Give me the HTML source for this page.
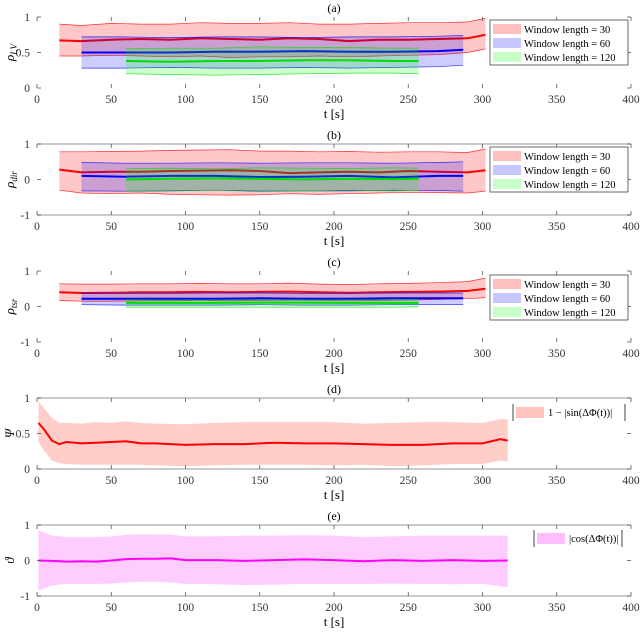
<!DOCTYPE html>
<html><head><meta charset="utf-8"><style>
body{margin:0;background:#fff;}
svg{display:block;font-family:"Liberation Serif",serif;}
</style></head><body>
<svg id="chart" width="640" height="632" viewBox="0 0 640 632" xmlns="http://www.w3.org/2000/svg"></svg>
<script>
// ---- data ----
const t30 = [15,30,50,70,90,110,130,150,170,190,210,230,250,270,290,302];
const t60 = [30,60,90,120,150,180,210,240,270,287];
const t120 = [60,90,120,150,180,210,240,257];
const aM30 = [.67,.66,.68,.69,.68,.70,.69,.68,.70,.69,.66,.68,.68,.69,.70,.75];
const aU30 = [.9,.88,.91,.9,.9,.92,.91,.91,.92,.9,.9,.91,.92,.92,.93,.98];
const aL30 = [.45,.45,.46,.45,.44,.45,.43,.44,.44,.45,.44,.45,.46,.47,.5,.55];
const aM60 = [.5,.5,.5,.51,.51,.52,.51,.51,.52,.54];
const aU60 = [.72,.72,.71,.72,.72,.71,.72,.72,.73,.74];
const aL60 = [.28,.28,.29,.28,.28,.29,.28,.29,.3,.32];
const aM120 = [.38,.37,.38,.38,.39,.39,.38,.38];
const aU120 = [.55,.56,.56,.58,.57,.57,.56,.56];
const aL120 = [.2,.19,.18,.19,.2,.21,.21,.2];
const bM30 = [.28,.2,.22,.22,.24,.25,.26,.24,.18,.2,.22,.2,.24,.22,.2,.26];
const bU30 = [.78,.78,.79,.8,.82,.83,.84,.8,.8,.78,.79,.77,.78,.78,.76,.86];
const bL30 = [-.3,-.38,-.4,-.38,-.42,-.43,-.44,-.43,-.4,-.42,-.4,-.38,-.36,-.37,-.38,-.33];
const bM60 = [.1,.08,.1,.1,.07,.08,.1,.06,.1,.1];
const bU60 = [.48,.46,.46,.47,.46,.47,.47,.46,.48,.5];
const bL60 = [-.32,-.33,-.32,-.3,-.33,-.32,-.32,-.3,-.31,-.33];
const bM120 = [0,.02,.03,.02,0,.02,.01,.02];
const bU120 = [.3,.32,.3,.33,.32,.31,.33,.32];
const bL120 = [-.32,-.31,-.3,-.31,-.32,-.3,-.32,-.3];
const cM30 = [.4,.38,.39,.4,.4,.41,.4,.41,.42,.4,.39,.4,.41,.42,.44,.5];
const cU30 = [.64,.63,.63,.64,.64,.65,.64,.64,.66,.63,.62,.64,.65,.67,.7,.8];
const cL30 = [.17,.15,.15,.16,.16,.17,.16,.17,.18,.17,.16,.17,.18,.2,.22,.25];
const cM60 = [.22,.22,.22,.22,.23,.22,.22,.23,.23,.23];
const cU60 = [.38,.37,.37,.38,.38,.37,.37,.38,.38,.38];
const cL60 = [.05,.04,.04,.04,.05,.04,.04,.05,.06,.06];
const cM120 = [.1,.1,.1,.11,.11,.1,.1,.1];
const cU120 = [.19,.18,.18,.19,.18,.19,.19,.19];
const cL120 = [-.02,-.02,-.02,-.02,-.02,-.02,-.02,-.01];
const dT = [1,5,10,15,20,30,40,50,60,70,80,100,120,140,160,180,200,220,240,260,280,300,312,317];
const dM = [.65,.55,.4,.35,.38,.36,.37,.38,.39,.36,.36,.34,.35,.35,.37,.36,.36,.35,.34,.34,.36,.36,.42,.4];
const dU = [.95,.85,.72,.65,.65,.64,.66,.65,.67,.65,.64,.63,.65,.66,.66,.66,.66,.64,.65,.66,.66,.65,.7,.7];
const dL = [.38,.25,.12,.08,.07,.06,.06,.06,.06,.06,.05,.04,.05,.06,.06,.06,.05,.06,.04,.05,.07,.07,.12,.1];
const eT = [1,10,20,30,40,50,60,70,80,90,100,120,140,160,180,200,220,240,260,280,300,317];
const eM = [0,-.01,-.03,-.02,-.03,0,.04,.05,.05,.06,.01,.01,-.01,.01,.03,.01,-.02,.01,-.01,.01,-.01,0];
const eU = [.85,.7,.66,.66,.66,.68,.72,.74,.73,.73,.68,.68,.7,.7,.71,.7,.66,.68,.7,.7,.7,.7];
const eL = [-.85,-.7,-.66,-.66,-.66,-.65,-.62,-.6,-.6,-.62,-.66,-.67,-.69,-.68,-.66,-.66,-.66,-.65,-.66,-.67,-.66,-.75];
const xTicks = [0,50,100,150,200,250,300,350,400];

const NS='http://www.w3.org/2000/svg';
const svg=document.getElementById('chart');
function mk(tag,attrs,parent){const e=document.createElementNS(NS,tag);for(const k in attrs)e.setAttribute(k,attrs[k]);(parent||svg).appendChild(e);return e;}
const X0=37,X1=631;
function xs(t){return X0+(t/400)*(X1-X0);}

const panels=[
 {key:'a',top:17,ymin:0,ymax:1,yt:[0,0.5,1],ytl:['0','0.5','1'],ylab:'ρ',sub:'I,V',lines:false,
  series:[[t30,aM30,aU30,aL30,'#f00','rgba(255,0,0,0.22)'],[t60,aM60,aU60,aL60,'#00f','rgba(0,0,255,0.2)'],[t120,aM120,aU120,aL120,'#0d0','rgba(0,255,0,0.2)']],leg:'win',legY:20},
 {key:'b',top:144,ymin:-1,ymax:1,yt:[-1,0,1],ytl:['-1','0','1'],ylab:'ρ',sub:'dir',lines:true,
  series:[[t30,bM30,bU30,bL30,'#f00','rgba(255,0,0,0.22)'],[t60,bM60,bU60,bL60,'#00f','rgba(0,0,255,0.2)'],[t120,bM120,bU120,bL120,'#0d0','rgba(0,255,0,0.2)']],leg:'win',legY:147},
 {key:'c',top:271,ymin:-1,ymax:1,yt:[-1,0,1],ytl:['-1','0','1'],ylab:'ρ',sub:'tsr',lines:false,
  series:[[t30,cM30,cU30,cL30,'#f00','rgba(255,0,0,0.22)'],[t60,cM60,cU60,cL60,'#00f','rgba(0,0,255,0.2)'],[t120,cM120,cU120,cL120,'#0d0','rgba(0,255,0,0.2)']],leg:'win',legY:275},
 {key:'d',top:398,ymin:0,ymax:1,yt:[0,0.5,1],ytl:['0','0.5','1'],ylab:'Ψ',sub:'',lines:true,
  series:[[dT,dM,dU,dL,'#f00','rgba(255,60,40,0.25)']],leg:'d'},
 {key:'e',top:525,ymin:-1,ymax:1,yt:[-1,0,1],ytl:['-1','0','1'],ylab:'ϑ',sub:'',lines:true,
  series:[[eT,eM,eU,eL,'#f0f','rgba(255,0,255,0.2)']],leg:'e'}
];
const H=71;
panels.forEach(p=>{
  const g=mk('g',{});
  
  
  const ys=v=>p.top+H-(v-p.ymin)/(p.ymax-p.ymin)*H;
  const bot=p.top+H;
  const tt=mk('text',{x:(X0+X1)/2,y:p.top-5,'text-anchor':'middle','font-size':12},g);tt.textContent='('+p.key+')';
  
  if(p.lines){
    mk('line',{x1:X0,x2:X1,y1:p.top,y2:p.top,stroke:'#aaa','stroke-width':1.2},g);
    mk('line',{x1:X0,x2:X1,y1:bot,y2:bot,stroke:'#aaa','stroke-width':1.2},g);
  }
  p.series.forEach((s,si)=>{
    const [T,M,U,L,col,fill]=s;
    let d='';T.forEach((t,i)=>d+=(i?'L':'M')+xs(t).toFixed(1)+','+ys(U[i]).toFixed(1));
    for(let i=T.length-1;i>=0;i--)d+='L'+xs(T[i]).toFixed(1)+','+ys(L[i]).toFixed(1);
    const band=mk('path',{d:d+'Z',fill:fill,stroke:'none'},g);
    
    if(p.key<'d'){
      [U,L].forEach(B=>{let dd='';T.forEach((t,i)=>dd+=(i?'L':'M')+xs(t).toFixed(1)+','+ys(B[i]).toFixed(1));
        mk('path',{d:dd,fill:'none',stroke:col,'stroke-width':0.7,opacity:0.8},g);});
    }
    let dm='';T.forEach((t,i)=>dm+=(i?'L':'M')+xs(t).toFixed(1)+','+ys(M[i]).toFixed(1));
    const ln=mk('path',{d:dm,fill:'none',stroke:col,'stroke-width':2},g);
    
  });
  xTicks.forEach(t=>{
    mk('line',{x1:xs(t),x2:xs(t),y1:p.top,y2:p.top+4,stroke:'#555','stroke-width':0.8},g);
    mk('line',{x1:xs(t),x2:xs(t),y1:bot,y2:bot-4,stroke:'#555','stroke-width':0.8},g);
    const lb=mk('text',{x:xs(t),y:bot+15,'text-anchor':'middle','font-size':11.5,fill:'#333'},g);lb.textContent=t;
    
  });
  p.yt.forEach((v,i)=>{
    const lb=mk('text',{x:30,y:ys(v)+4,'text-anchor':'end','font-size':11.5,fill:'#333'},g);lb.textContent=p.ytl[i];
    
    mk('line',{x1:X0,x2:X0+4,y1:ys(v),y2:ys(v),stroke:'#555','stroke-width':0.8},g);
    mk('line',{x1:X1,x2:X1-4,y1:ys(v),y2:ys(v),stroke:'#555','stroke-width':0.8},g);
  });
  const xl=mk('text',{x:(X0+X1)/2,y:bot+30,'text-anchor':'middle','font-size':13},g);xl.textContent='t [s]';
  
  const yl=mk('text',{transform:'translate(14,'+(p.top+H/2)+') rotate(-90)','text-anchor':'middle','font-size':13,'font-style':'italic'},g);
  yl.textContent=p.ylab;
  if(p.sub){const sp=mk('tspan',{'font-size':9,dy:3},yl);sp.textContent=p.sub;}
  
  // legends
  if(p.leg==='win'){
    const lg=mk('g',{},g);
    mk('rect',{x:490,y:p.legY,width:138,height:45,fill:'#fff',stroke:'#444','stroke-width':0.8},lg);
    const labs=['Window length = 30','Window length = 60','Window length = 120'];
    const fills=['rgba(255,0,0,0.25)','rgba(0,0,255,0.22)','rgba(0,255,0,0.22)'];
    labs.forEach((l,i)=>{
      mk('rect',{x:493,y:p.legY+4+i*14,width:28,height:10,fill:fills[i]},lg);
      const tx=mk('text',{x:524,y:p.legY+13+i*14,'font-size':10.5},lg);tx.textContent=l;
      
    });
  } else if(p.leg==='d'){
    const lg=mk('g',{},g);
    mk('line',{x1:513,x2:513,y1:404,y2:421,stroke:'#444'},lg);mk('line',{x1:625,x2:625,y1:404,y2:421,stroke:'#444'},lg);
    mk('rect',{x:516,y:407,width:28,height:11,fill:'rgba(255,60,40,0.3)'},lg);
    const tx=mk('text',{x:548,y:416,'font-size':10.5},lg);tx.textContent='1 − |sin(ΔΦ(t))|';
    
  } else {
    const lg=mk('g',{},g);
    mk('line',{x1:534,x2:534,y1:530,y2:547,stroke:'#444'},lg);mk('line',{x1:622,x2:622,y1:530,y2:547,stroke:'#444'},lg);
    mk('rect',{x:537,y:533,width:28,height:11,fill:'rgba(255,0,255,0.25)'},lg);
    const tx=mk('text',{x:569,y:542,'font-size':10.5},lg);tx.textContent='|cos(ΔΦ(t))|';
    
  }
});
</script>
</body></html>
